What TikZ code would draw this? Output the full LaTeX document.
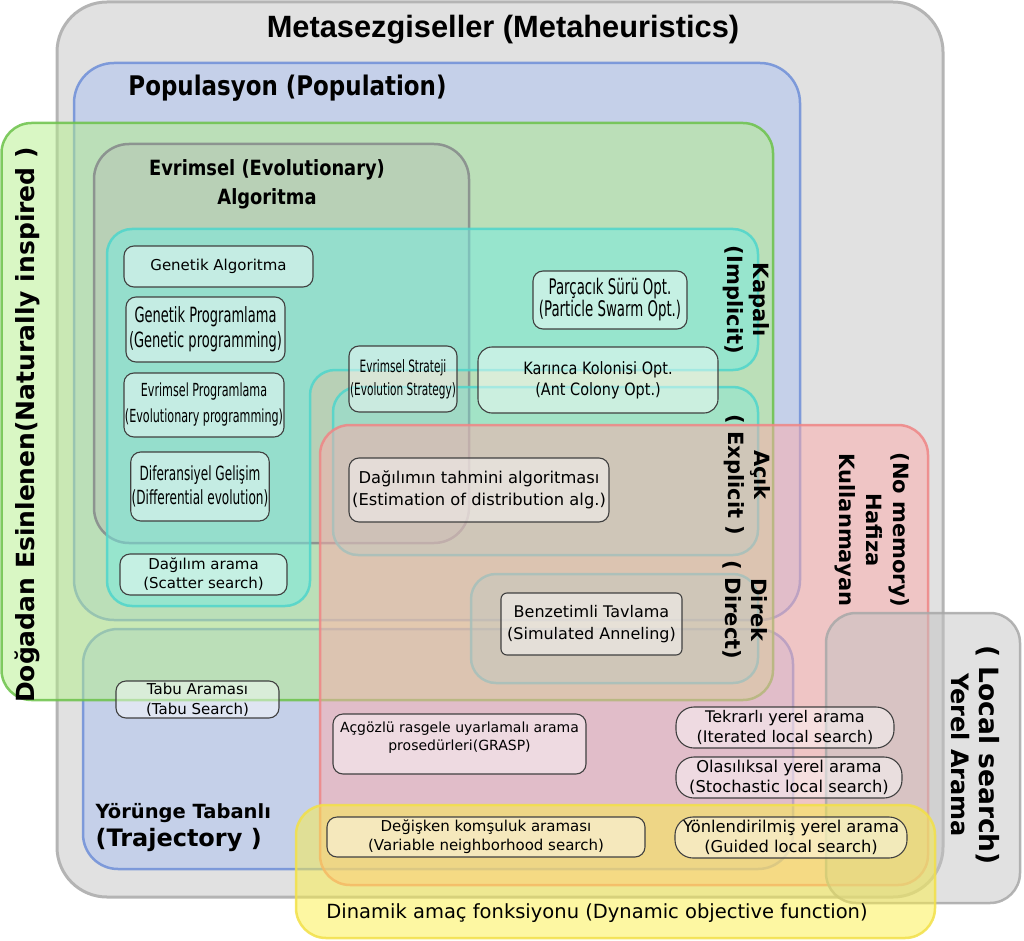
\documentclass[tikz,border=0pt]{standalone}
\usepackage{fontspec}
\setmainfont{DejaVu Sans}
\newfontfamily\titlefont{Liberation Sans}
\newfontfamily\condfont[FakeStretch=0.62]{DejaVu Sans}
\newfontfamily\semifont[FakeStretch=0.85]{DejaVu Sans}
\usepackage{tikz}

\definecolor{metagray}{HTML}{E1E1E1}
\definecolor{metaline}{HTML}{B4B4B4}
\definecolor{popblue}{HTML}{ABC1F1}
\definecolor{popline}{HTML}{6F8FD8}
\definecolor{natgreen}{HTML}{B3EF89}
\definecolor{natline}{HTML}{6CC24A}
\definecolor{evogray}{HTML}{B4BAB4}
\definecolor{evoline}{HTML}{85898A}
\definecolor{cyanfill}{HTML}{74ECE2}
\definecolor{cyanline}{HTML}{4FD5CB}
\definecolor{memred}{HTML}{FDABAB}
\definecolor{memline}{HTML}{EF8585}
\definecolor{dynyellow}{HTML}{FBEF45}
\definecolor{dynline}{HTML}{F2E048}
\definecolor{localgray}{HTML}{C3C3C3}
\definecolor{localline}{HTML}{A8A8A8}

\begin{document}
\begin{tikzpicture}[x=1pt,y=-1pt,
	region/.style={line width=2.5pt,fill opacity=0.5,draw opacity=0.85},
	item node/.style={draw=black!75,line width=1.1pt,fill=white,fill opacity=0.45,
		text opacity=1,rounded corners=10pt,inner sep=1pt,align=center},
	side label/.style={font=\bfseries,align=center}]
	\useasboundingbox (0,0) rectangle (1024,941);

	% regions
	\draw[line width=3pt,draw=metaline,fill=metagray,rounded corners=50pt] (57,2) rectangle (943,897);
	\draw[region,draw=popline,fill=popblue,rounded corners=40pt] (74,63) rectangle (800,620);
	\draw[region,draw=popline,fill=popblue,rounded corners=35pt] (83,629) rectangle (793,869);
	\draw[region,draw=natline,fill=natgreen,rounded corners=30pt] (1.5,123) rectangle (773,700);
	\draw[region,draw=evoline,fill=evogray,fill opacity=0.4,rounded corners=35pt] (94,144) rectangle (469,543);
	\draw[region,draw=cyanline,fill=cyanfill,rounded corners=25pt]
		(107,229) -- (758,229) -- (758,370) -- (310,370) -- (310,606) -- (107,606) -- cycle;
	\draw[region,draw=cyanline,fill=cyanfill,fill opacity=0.35,rounded corners=25pt] (333,387) rectangle (758,555);
	\draw[region,draw=cyanline,fill=cyanfill,fill opacity=0.35,rounded corners=25pt] (471,574) rectangle (758,683);
	\draw[region,draw=memline,fill=memred,rounded corners=30pt] (320,425) rectangle (928,885);
	\draw[region,draw=localline,fill=localgray,rounded corners=30pt] (826,613) rectangle (1020,903);
	\draw[region,draw=dynline,fill=dynyellow,rounded corners=30pt] (296,805) rectangle (935,938);

	% algorithms
	\node[item node,minimum width=189,minimum height=41,font={\fontsize{15}{18}\selectfont}] (ga) at (218.5,266.5) {Genetik Algoritma};
	\node[item node,minimum width=159,minimum height=65,font={\condfont\fontsize{21}{25}\selectfont}] (gp) at (205.5,329.5) {Genetik Programlama\\(Genetic programming)};
	\node[item node,minimum width=158,minimum height=64,font={\condfont\fontsize{18}{26}\selectfont}] (ep) at (204,405) {Evrimsel Programlama\\(Evolutionary programming)};
	\node[item node,minimum width=138,minimum height=69,font={\condfont\fontsize{19.5}{24}\selectfont}] (de) at (200,486.5) {Diferansiyel Gelişim\\(Differential evolution)};
	\node[item node,minimum width=167,minimum height=41,font={\fontsize{15}{19}\selectfont}] (ss) at (203.5,574.5) {Dağılım arama\\(Scatter search)};
	\node[item node,minimum width=108,minimum height=66,font={\condfont\fontsize{17}{23}\selectfont}] (es) at (403,379) {Evrimsel Strateji\\(Evolution Strategy)};
	\node[item node,minimum width=154,minimum height=58,font={\condfont\fontsize{21.5}{22}\selectfont}] (pso) at (610,300) {Parçacık Sürü Opt.\\(Particle Swarm Opt.)};
	\node[item node,minimum width=240,minimum height=66,rounded corners=14pt,font={\semifont\fontsize{17}{21}\selectfont}] (aco) at (598,380) {Karınca Kolonisi Opt.\\(Ant Colony Opt.)};
	\node[item node,minimum width=260,minimum height=64,font={\fontsize{16.3}{22}\selectfont}] (eda) at (479,490) {Dağılımın tahmini algoritması\\(Estimation of distribution alg.)};
	\node[item node,minimum width=181,minimum height=62,rounded corners=6pt,font={\fontsize{16}{22}\selectfont}] (sa) at (591.5,624) {Benzetimli Tavlama\\(Simulated Anneling)};
	\node[item node,minimum width=163,minimum height=37,font={\fontsize{15}{20}\selectfont}] (tabu) at (197.5,699.5) {Tabu Araması\\(Tabu Search)};
	\node[item node,minimum width=253,minimum height=60] (grasp) at (459.5,744) {};
	\node[align=center,font={\fontsize{14}{18}\selectfont}] (grasp text) at (459.5,738) {Açgözlü rasgele uyarlamalı arama\\prosedürleri(GRASP)};
	\node[item node,minimum width=218,minimum height=41,rounded corners=18pt,font={\fontsize{16}{20}\selectfont}] (ils) at (785,727.5) {Tekrarlı yerel arama\\(Iterated local search)};
	\node[item node,minimum width=226,minimum height=41,rounded corners=18pt,font={\fontsize{16.3}{20}\selectfont}] (sls) at (789,777.5) {Olasılıksal yerel arama\\(Stochastic local search)};
	\node[item node,minimum width=232,minimum height=41,rounded corners=18pt,font={\fontsize{16.3}{20}\selectfont}] (gls) at (791,837.5) {Yönlendirilmiş yerel arama\\(Guided local search)};
	\node[item node,minimum width=318,minimum height=40,font={\fontsize{15}{19}\selectfont}] (vns) at (486,837) {Değişken komşuluk araması\\(Variable neighborhood search)};

	% region titles
	\node[font={\titlefont\bfseries\fontsize{30.8}{36}\selectfont}] (meta) at (503,30) {Metasezgiseller (Metaheuristics)};
	\node[font={\semifont\bfseries\fontsize{27}{32}\selectfont}] (pop) at (287.5,88) {Populasyon (Population)};
	\node[align=center,font={\semifont\bfseries\fontsize{21}{29}\selectfont}] (evo) at (267,184) {Evrimsel (Evolutionary)\\Algoritma};
	\node[side label,rotate=90,font={\bfseries\fontsize{25}{30}\selectfont}] (nat) at (27,425) {Doğadan Esinlenen(Naturally inspired )};
	\node[side label,rotate=-90,font={\bfseries\fontsize{21}{26}\selectfont}] (impl) at (746,300) {Kapalı\\(Implicit)};
	\node[side label,rotate=-90,font={\bfseries\fontsize{21}{26}\selectfont}] (expl) at (747,475) {Açık\\( Explicit )};
	\node[side label,rotate=-90,font={\bfseries\fontsize{21}{26}\selectfont}] (dir) at (745,610) {Direk\\( Direct)};
	\node[side label,rotate=-90,font={\bfseries\fontsize{21}{27}\selectfont}] (mem) at (872,530) {(No memory)\\Hafiza\\Kullanmayan};
	\node[side label,rotate=-90,font={\bfseries\fontsize{24}{28}\selectfont}] (local) at (975,755) {{\fontsize{26.5}{28}\selectfont( Local search)}\\Yerel Arama};
	\node[anchor=west,align=left,font={\bfseries\fontsize{19.5}{28}\selectfont}] (traj) at (92,828) {Yörünge Tabanlı\\{\fontsize{24}{28}\selectfont(Trajectory )}};
	\node[font={\fontsize{19.5}{24}\selectfont}] (dyn) at (597,913) {Dinamik amaç fonksiyonu (Dynamic objective function)};
\end{tikzpicture}
\end{document}
